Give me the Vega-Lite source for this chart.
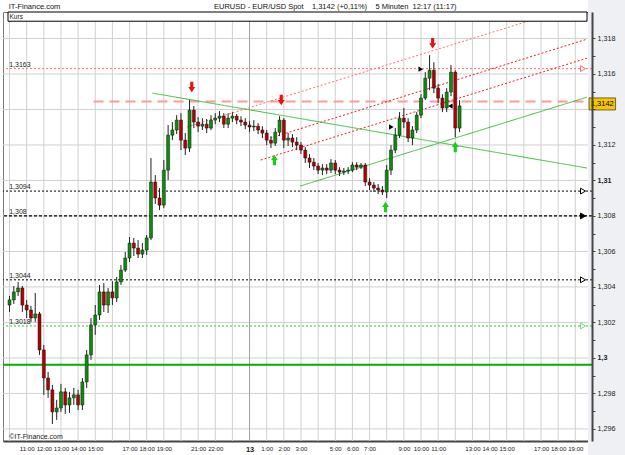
{
 "$schema": "https://vega.github.io/schema/vega-lite/v6.json",
 "width": 589, "height": 429,
 "autosize": "none",
 "padding": {"left": 3, "top": 12, "right": 33, "bottom": 14},
 "background": "#ffffff",
 "config": {"view": {"stroke": "#7a7a7a", "strokeWidth": 1, "fill": "#ffffff"}, "font": "Liberation Sans", "axis": {"labelFont": "Liberation Sans"}},
 "datasets": {
  "candles": [
   {"t":10.0,"o":1.30298,"hi":1.30349,"lo":1.30259,"c":1.30327},
   {"t":10.25,"o":1.30327,"hi":1.30405,"lo":1.30304,"c":1.30372},
   {"t":10.5,"o":1.30372,"hi":1.30428,"lo":1.30349,"c":1.30394},
   {"t":10.75,"o":1.30394,"hi":1.30405,"lo":1.30259,"c":1.30298},
   {"t":11.0,"o":1.30298,"hi":1.30327,"lo":1.30225,"c":1.30270},
   {"t":11.25,"o":1.30270,"hi":1.30293,"lo":1.30203,"c":1.30225},
   {"t":11.5,"o":1.30225,"hi":1.30366,"lo":1.30203,"c":1.30248},
   {"t":11.75,"o":1.30248,"hi":1.30259,"lo":1.30017,"c":1.30045},
   {"t":12.0,"o":1.30045,"hi":1.30073,"lo":1.29792,"c":1.29887},
   {"t":12.25,"o":1.29887,"hi":1.29921,"lo":1.29775,"c":1.29820},
   {"t":12.5,"o":1.29820,"hi":1.29848,"lo":1.29628,"c":1.29696},
   {"t":12.75,"o":1.29696,"hi":1.29764,"lo":1.29651,"c":1.29718},
   {"t":13.0,"o":1.29718,"hi":1.29854,"lo":1.29696,"c":1.29809},
   {"t":13.25,"o":1.29809,"hi":1.29831,"lo":1.29685,"c":1.29735},
   {"t":13.5,"o":1.29735,"hi":1.29809,"lo":1.29690,"c":1.29775},
   {"t":13.75,"o":1.29775,"hi":1.29831,"lo":1.29735,"c":1.29792},
   {"t":14.0,"o":1.29792,"hi":1.29820,"lo":1.29707,"c":1.29735},
   {"t":14.25,"o":1.29735,"hi":1.29887,"lo":1.29707,"c":1.29865},
   {"t":14.5,"o":1.29865,"hi":1.30045,"lo":1.29831,"c":1.30017},
   {"t":14.75,"o":1.30017,"hi":1.30225,"lo":1.29989,"c":1.30186},
   {"t":15.0,"o":1.30186,"hi":1.30298,"lo":1.30130,"c":1.30242},
   {"t":15.25,"o":1.30242,"hi":1.30411,"lo":1.30214,"c":1.30372},
   {"t":15.5,"o":1.30372,"hi":1.30422,"lo":1.30259,"c":1.30298},
   {"t":15.75,"o":1.30298,"hi":1.30394,"lo":1.30253,"c":1.30372},
   {"t":16.0,"o":1.30372,"hi":1.30433,"lo":1.30298,"c":1.30338},
   {"t":16.25,"o":1.30338,"hi":1.30456,"lo":1.30315,"c":1.30428},
   {"t":16.5,"o":1.30428,"hi":1.30524,"lo":1.30411,"c":1.30495},
   {"t":16.75,"o":1.30495,"hi":1.30597,"lo":1.30484,"c":1.30563},
   {"t":17.0,"o":1.30563,"hi":1.30681,"lo":1.30540,"c":1.30647},
   {"t":17.25,"o":1.30647,"hi":1.30676,"lo":1.30574,"c":1.30619},
   {"t":17.5,"o":1.30619,"hi":1.30664,"lo":1.30563,"c":1.30585},
   {"t":17.75,"o":1.30585,"hi":1.30647,"lo":1.30563,"c":1.30608},
   {"t":18.0,"o":1.30608,"hi":1.30692,"lo":1.30580,"c":1.30676},
   {"t":18.25,"o":1.30676,"hi":1.31126,"lo":1.30664,"c":1.30991},
   {"t":18.5,"o":1.30991,"hi":1.31030,"lo":1.30867,"c":1.30901},
   {"t":18.75,"o":1.30901,"hi":1.30957,"lo":1.30833,"c":1.30861},
   {"t":19.0,"o":1.30861,"hi":1.31115,"lo":1.30844,"c":1.31058},
   {"t":19.25,"o":1.31058,"hi":1.31312,"lo":1.31002,"c":1.31255},
   {"t":19.5,"o":1.31255,"hi":1.31329,"lo":1.31227,"c":1.31284},
   {"t":19.75,"o":1.31284,"hi":1.31368,"lo":1.31261,"c":1.31340},
   {"t":20.0,"o":1.31340,"hi":1.31379,"lo":1.31171,"c":1.31227},
   {"t":20.25,"o":1.31227,"hi":1.31267,"lo":1.31143,"c":1.31182},
   {"t":20.5,"o":1.31182,"hi":1.31453,"lo":1.31160,"c":1.31396},
   {"t":20.75,"o":1.31396,"hi":1.31419,"lo":1.31295,"c":1.31329},
   {"t":21.0,"o":1.31329,"hi":1.31357,"lo":1.31272,"c":1.31306},
   {"t":21.25,"o":1.31306,"hi":1.31351,"lo":1.31284,"c":1.31317},
   {"t":21.5,"o":1.31317,"hi":1.31346,"lo":1.31267,"c":1.31295},
   {"t":21.75,"o":1.31295,"hi":1.31368,"lo":1.31284,"c":1.31340},
   {"t":22.0,"o":1.31340,"hi":1.31379,"lo":1.31317,"c":1.31351},
   {"t":22.25,"o":1.31351,"hi":1.31391,"lo":1.31329,"c":1.31362},
   {"t":22.5,"o":1.31362,"hi":1.31379,"lo":1.31295,"c":1.31317},
   {"t":22.75,"o":1.31317,"hi":1.31379,"lo":1.31295,"c":1.31351},
   {"t":23.0,"o":1.31351,"hi":1.31385,"lo":1.31329,"c":1.31362},
   {"t":23.25,"o":1.31362,"hi":1.31374,"lo":1.31317,"c":1.31340},
   {"t":23.5,"o":1.31340,"hi":1.31362,"lo":1.31306,"c":1.31329},
   {"t":23.75,"o":1.31329,"hi":1.31351,"lo":1.31289,"c":1.31312},
   {"t":24.0,"o":1.31312,"hi":1.31334,"lo":1.31272,"c":1.31301},
   {"t":24.25,"o":1.31301,"hi":1.31340,"lo":1.31278,"c":1.31306},
   {"t":24.5,"o":1.31306,"hi":1.31323,"lo":1.31261,"c":1.31284},
   {"t":24.75,"o":1.31284,"hi":1.31306,"lo":1.31239,"c":1.31267},
   {"t":25.0,"o":1.31267,"hi":1.31284,"lo":1.31199,"c":1.31227},
   {"t":25.25,"o":1.31227,"hi":1.31250,"lo":1.31182,"c":1.31210},
   {"t":25.5,"o":1.31210,"hi":1.31295,"lo":1.31194,"c":1.31272},
   {"t":25.75,"o":1.31272,"hi":1.31362,"lo":1.31250,"c":1.31340},
   {"t":26.0,"o":1.31340,"hi":1.31351,"lo":1.31182,"c":1.31227},
   {"t":26.25,"o":1.31227,"hi":1.31267,"lo":1.31194,"c":1.31239},
   {"t":26.5,"o":1.31239,"hi":1.31261,"lo":1.31188,"c":1.31216},
   {"t":26.75,"o":1.31216,"hi":1.31244,"lo":1.31171,"c":1.31199},
   {"t":27.0,"o":1.31199,"hi":1.31216,"lo":1.31149,"c":1.31171},
   {"t":27.25,"o":1.31171,"hi":1.31188,"lo":1.31098,"c":1.31126},
   {"t":27.5,"o":1.31126,"hi":1.31149,"lo":1.31070,"c":1.31103},
   {"t":27.75,"o":1.31103,"hi":1.31126,"lo":1.31058,"c":1.31081},
   {"t":28.0,"o":1.31081,"hi":1.31098,"lo":1.31036,"c":1.31058},
   {"t":28.25,"o":1.31058,"hi":1.31092,"lo":1.31030,"c":1.31070},
   {"t":28.5,"o":1.31070,"hi":1.31092,"lo":1.31036,"c":1.31058},
   {"t":28.75,"o":1.31058,"hi":1.31120,"lo":1.31042,"c":1.31098},
   {"t":29.0,"o":1.31098,"hi":1.31115,"lo":1.31036,"c":1.31058},
   {"t":29.25,"o":1.31058,"hi":1.31075,"lo":1.31025,"c":1.31047},
   {"t":29.5,"o":1.31047,"hi":1.31070,"lo":1.31030,"c":1.31053},
   {"t":29.75,"o":1.31053,"hi":1.31075,"lo":1.31036,"c":1.31058},
   {"t":30.0,"o":1.31058,"hi":1.31103,"lo":1.31047,"c":1.31087},
   {"t":30.25,"o":1.31087,"hi":1.31103,"lo":1.31058,"c":1.31075},
   {"t":30.5,"o":1.31075,"hi":1.31098,"lo":1.31064,"c":1.31087},
   {"t":30.75,"o":1.31087,"hi":1.31098,"lo":1.30968,"c":1.30991},
   {"t":31.0,"o":1.30991,"hi":1.31013,"lo":1.30946,"c":1.30974},
   {"t":31.25,"o":1.30974,"hi":1.30991,"lo":1.30935,"c":1.30957},
   {"t":31.5,"o":1.30957,"hi":1.30980,"lo":1.30923,"c":1.30946},
   {"t":31.75,"o":1.30946,"hi":1.30968,"lo":1.30918,"c":1.30935},
   {"t":32.0,"o":1.30935,"hi":1.31087,"lo":1.30901,"c":1.31058},
   {"t":32.25,"o":1.31058,"hi":1.31199,"lo":1.31030,"c":1.31171},
   {"t":32.5,"o":1.31171,"hi":1.31295,"lo":1.31154,"c":1.31255},
   {"t":32.75,"o":1.31255,"hi":1.31385,"lo":1.31239,"c":1.31351},
   {"t":33.0,"o":1.31351,"hi":1.31408,"lo":1.31295,"c":1.31329},
   {"t":33.25,"o":1.31329,"hi":1.31351,"lo":1.31216,"c":1.31239},
   {"t":33.5,"o":1.31239,"hi":1.31306,"lo":1.31199,"c":1.31284},
   {"t":33.75,"o":1.31284,"hi":1.31385,"lo":1.31267,"c":1.31368},
   {"t":34.0,"o":1.31368,"hi":1.31486,"lo":1.31351,"c":1.31464},
   {"t":34.25,"o":1.31464,"hi":1.31610,"lo":1.31453,"c":1.31576},
   {"t":34.5,"o":1.31576,"hi":1.31706,"lo":1.31509,"c":1.31621},
   {"t":34.75,"o":1.31621,"hi":1.31666,"lo":1.31492,"c":1.31520},
   {"t":35.0,"o":1.31520,"hi":1.31543,"lo":1.31436,"c":1.31464},
   {"t":35.25,"o":1.31464,"hi":1.31486,"lo":1.31385,"c":1.31408},
   {"t":35.5,"o":1.31408,"hi":1.31520,"lo":1.31385,"c":1.31498},
   {"t":35.75,"o":1.31498,"hi":1.31650,"lo":1.31475,"c":1.31610},
   {"t":36.0,"o":1.31610,"hi":1.31621,"lo":1.31244,"c":1.31295},
   {"t":36.25,"o":1.31295,"hi":1.31453,"lo":1.31272,"c":1.31420}
  ],
  "levels": [
   {"p":1.3163,"lab":"1,3163","col":"#ff6f6f","dash":[2,2],"w":1,"tf":"#ffffff"},
   {"p":1.3094,"lab":"1,3094","col":"#000000","dash":[2,2],"w":1,"tf":"#ffffff"},
   {"p":1.308,"lab":"1,308","col":"#000000","dash":[3,2],"w":1.2,"tf":"#000000"},
   {"p":1.3044,"lab":"1,3044","col":"#000000","dash":[2,2],"w":1,"tf":"#ffffff"},
   {"p":1.3018,"lab":"1,3018","col":"#7fd67f","dash":[2,2],"w":1.5,"tf":"#ffffff"}
  ],
  "trends": [
   {"t1":20.35,"p1":1.31301,"t2":42.0,"p2":1.31950,"col":"#ff7070","dash":[2,2]},
   {"t1":25.22,"p1":1.31239,"t2":43.68,"p2":1.31796,"col":"#ee2020","dash":[2,2]},
   {"t1":24.65,"p1":1.31115,"t2":43.68,"p2":1.31689,"col":"#ee2020","dash":[2,2]},
   {"t1":18.34,"p1":1.31492,"t2":43.68,"p2":1.31070,"col":"#3cbc3c","dash":[1,0]},
   {"t1":26.94,"p1":1.30968,"t2":43.68,"p2":1.31469,"col":"#3cbc3c","dash":[1,0]}
  ],
  "hourGrid": [{"g":10},{"g":11},{"g":12},{"g":13},{"g":14},{"g":15},{"g":16},{"g":17},{"g":18},{"g":19},{"g":20},{"g":21},{"g":22},{"g":23},{"g":25},{"g":26},{"g":27},{"g":28},{"g":29},{"g":30},{"g":31},{"g":32},{"g":33},{"g":34},{"g":35},{"g":36},{"g":37},{"g":38},{"g":39},{"g":40},{"g":41},{"g":42},{"g":43}],
  "priceGrid": [{"g":1.296},{"g":1.298},{"g":1.3},{"g":1.302},{"g":1.304},{"g":1.306},{"g":1.308},{"g":1.31},{"g":1.312},{"g":1.314},{"g":1.316},{"g":1.318}],
  "arrowsDown": [{"t":20.63,"p":1.31526},{"t":25.85,"p":1.31453},{"t":34.68,"p":1.31773}],
  "arrowsUp": [{"t":25.45,"p":1.31115},{"t":31.93,"p":1.30850},{"t":36.0,"p":1.31188}],
  "markers": [{"t":33.99,"p":1.31627,"s":"triangle-right"},{"t":32.27,"p":1.31301,"s":"triangle-right"},{"t":35.71,"p":1.31419,"s":"triangle-left"}]
 },
 "layer": [
  {"data": {"name": "candles"},
   "mark": {"type": "rule", "color": "#222222", "strokeWidth": 1, "opacity": 0},
   "encoding": {
    "x": {"field": "t", "type": "quantitative", "title": null,
     "scale": {"domain": [9.911, 43.683], "nice": false, "zero": false},
     "axis": {"title": null, "tickCount": 200, "values": [11,12,13,14,15,17,18,19,21,22,24,25,26,27,29,30,31,33,34,35,37,38,39,41,42,43],
      "labelExpr": "datum.value == 24 ? '13' : (datum.value < 24 ? datum.value : datum.value - 24) + ':00'",
      "labelFontWeight": {"condition": {"test": "datum.value == 24", "value": "bold"}, "value": "normal"},
      "labelFontSize": {"condition": {"test": "datum.value == 24", "value": 7.5}, "value": 6.1},
      "grid": false, "ticks": false, "domainColor": "#444444", "domainWidth": 2,
      "labelColor": "#222222", "labelPadding": 4, "labelFlush": false, "labelOverlap": false}},
    "y": {"field": "lo", "type": "quantitative", "title": null,
     "scale": {"domain": [1.29532, 1.31949], "nice": false, "zero": false},
     "axis": {"orient": "right", "title": null, "zindex": 1, "tickCount": 200,
      "values": [1.296,1.297,1.298,1.299,1.3,1.301,1.302,1.303,1.304,1.305,1.306,1.307,1.308,1.309,1.31,1.311,1.312,1.313,1.314,1.315,1.316,1.317,1.318],
      "labelExpr": "(round(datum.value*1000) % 2 == 1 || round(datum.value*1000) == 1314) ? '' : replace(format(datum.value, '.3~f'), '.', ',')",
      "labelFontWeight": {"condition": {"test": "round(datum.value*1000) == 1310 || round(datum.value*1000) == 1300", "value": "bold"}, "value": "normal"},
      "grid": false, "tickSize": 3, "tickColor": "#444444", "domainColor": "#444444", "domainWidth": 2,
      "labelFontSize": 7.2, "labelColor": "#222222", "labelPadding": 2, "labelFlush": false, "labelOverlap": false}},
    "y2": {"field": "hi"}}},
  {"data": {"name": "hourGrid"},
   "mark": {"type": "rule", "color": "#d0d0d0", "strokeWidth": 1},
   "encoding": {"x": {"field": "g", "type": "quantitative", "title": null}}},
  {"data": {"name": "priceGrid"},
   "mark": {"type": "rule", "color": "#d0d0d0", "strokeWidth": 1},
   "encoding": {"y": {"field": "g", "type": "quantitative", "title": null}}},
  {"data": {"values": [{"k": 1}]},
   "mark": {"type": "rect", "fill": "#eef0f3", "clip": false},
   "encoding": {"x": {"datum": 43.74, "type": "quantitative"}, "x2": {"datum": 46.5}, "y": {"datum": 1.2942, "type": "quantitative"}, "y2": {"datum": 1.3206}}},
  {"data": {"name": "levels"},
   "mark": {"type": "rule"},
   "encoding": {"y": {"field": "p", "type": "quantitative", "title": null},
    "color": {"field": "col", "type": "nominal", "scale": null},
    "strokeDash": {"field": "dash", "type": "nominal", "scale": null},
    "strokeWidth": {"field": "w", "type": "quantitative", "scale": null}}},
  {"data": {"values": [{"p": 1.31445, "t0": 14.9}]},
   "mark": {"type": "rule", "color": "#ff9a9a", "strokeWidth": 2, "strokeDash": [10, 6]},
   "encoding": {"x": {"field": "t0", "type": "quantitative", "title": null}, "x2": {"datum": 43.683}, "y": {"field": "p", "type": "quantitative", "title": null}}},
  {"data": {"values": [{"k": 1}]},
   "mark": {"type": "rule", "color": "#a0a0a0", "strokeWidth": 1},
   "encoding": {"x": {"datum": 24, "type": "quantitative"}}},
  {"data": {"values": [{"p": 1.29962}]},
   "mark": {"type": "rule", "color": "#00b000", "strokeWidth": 2},
   "encoding": {"y": {"field": "p", "type": "quantitative", "title": null}}},
  {"data": {"name": "trends"},
   "mark": {"type": "rule", "strokeWidth": 1, "clip": true},
   "encoding": {"x": {"field": "t1", "type": "quantitative", "title": null}, "y": {"field": "p1", "type": "quantitative", "title": null},
    "x2": {"field": "t2"}, "y2": {"field": "p2"},
    "color": {"field": "col", "type": "nominal", "scale": null},
    "strokeDash": {"field": "dash", "type": "nominal", "scale": null}}},
  {"data": {"name": "candles"},
   "mark": {"type": "rule", "color": "#222222", "strokeWidth": 1},
   "encoding": {"x": {"field": "t", "type": "quantitative", "title": null}, "y": {"field": "lo", "type": "quantitative", "title": null}, "y2": {"field": "hi"}}},
  {"data": {"name": "candles"},
   "mark": {"type": "bar", "size": 3, "stroke": "#111111", "strokeWidth": 0.5},
   "encoding": {"x": {"field": "t", "type": "quantitative", "title": null}, "y": {"field": "o", "type": "quantitative", "title": null}, "y2": {"field": "c"},
    "color": {"condition": {"test": "datum.c >= datum.o", "value": "#0b8f0b"}, "value": "#b30000"}}},
  {"data": {"name": "arrowsDown"},
   "mark": {"type": "point", "filled": true, "color": "#e81010", "size": 110, "opacity": 1, "shape": "M-0.3,-1L0.3,-1L0.3,0L0.65,0L0,1L-0.65,0L-0.3,0Z"},
   "encoding": {"x": {"field": "t", "type": "quantitative", "title": null}, "y": {"field": "p", "type": "quantitative", "title": null}}},
  {"data": {"name": "arrowsUp"},
   "mark": {"type": "point", "filled": true, "color": "#18d018", "size": 110, "opacity": 1, "shape": "M-0.3,1L0.3,1L0.3,0L0.65,0L0,-1L-0.65,0L-0.3,0Z"},
   "encoding": {"x": {"field": "t", "type": "quantitative", "title": null}, "y": {"field": "p", "type": "quantitative", "title": null}}},
  {"data": {"name": "markers"},
   "mark": {"type": "point", "filled": true, "color": "#000000", "size": 28, "opacity": 1},
   "encoding": {"x": {"field": "t", "type": "quantitative", "title": null}, "y": {"field": "p", "type": "quantitative", "title": null},
    "shape": {"field": "s", "type": "nominal", "scale": null}}},
  {"data": {"name": "levels"},
   "mark": {"type": "point", "shape": "triangle-right", "size": 34, "strokeWidth": 1, "opacity": 1},
   "encoding": {"x": {"datum": 43.45, "type": "quantitative"}, "y": {"field": "p", "type": "quantitative", "title": null},
    "fill": {"field": "tf", "type": "nominal", "scale": null},
    "stroke": {"field": "col", "type": "nominal", "scale": null}}},
  {"data": {"name": "levels"},
   "mark": {"type": "text", "align": "left", "baseline": "bottom", "dy": -1, "fontSize": 7, "color": "#222222"},
   "encoding": {"x": {"datum": 9.98, "type": "quantitative"}, "y": {"field": "p", "type": "quantitative", "title": null}, "text": {"field": "lab"}}},
  {"data": {"values": [{"k": 1}]},
   "mark": {"type": "rect", "fill": "#ffffff", "stroke": "#000000", "strokeWidth": 1},
   "encoding": {"x": {"datum": 9.911, "type": "quantitative"}, "x2": {"datum": 43.683}, "y": {"datum": 1.31949, "type": "quantitative"}, "y2": {"datum": 1.31897}}},
  {"data": {"values": [{"txt": "Kurs"}]},
   "mark": {"type": "text", "align": "left", "baseline": "middle", "fontSize": 6.5, "color": "#222222"},
   "encoding": {"x": {"datum": 10.0, "type": "quantitative"}, "y": {"datum": 1.31923, "type": "quantitative"}, "text": {"field": "txt"}}},
  {"data": {"values": [{"txt": "EURUSD - EUR/USD Spot\u00a0\u00a0\u00a0\u00a01,3142 (+0,11%)\u00a0\u00a0\u00a0\u00a05 Minuten\u00a0\u00a012:17 (11:17)"}]},
   "mark": {"type": "text", "align": "center", "baseline": "middle", "fontSize": 7.5, "color": "#111111", "clip": false},
   "encoding": {"x": {"datum": 29.0, "type": "quantitative"}, "y": {"datum": 1.31977, "type": "quantitative"}, "text": {"field": "txt"}}},
  {"data": {"values": [{"txt": "IT-Finance.com"}]},
   "mark": {"type": "text", "align": "left", "baseline": "middle", "fontSize": 7.5, "color": "#111111"},
   "encoding": {"x": {"datum": 9.95, "type": "quantitative"}, "y": {"datum": 1.31977, "type": "quantitative"}, "text": {"field": "txt"}}},
  {"data": {"values": [{"txt": "\u00a9IT-Finance.com"}]},
   "mark": {"type": "text", "align": "left", "baseline": "middle", "fontSize": 7, "color": "#222222"},
   "encoding": {"x": {"datum": 9.99, "type": "quantitative"}, "y": {"datum": 1.29555, "type": "quantitative"}, "text": {"field": "txt"}}},
  {"data": {"values": [{"k": 1}]},
   "mark": {"type": "rect", "fill": "#f7c600", "stroke": "#333333", "strokeWidth": 0.7},
   "encoding": {"x": {"datum": 43.8, "type": "quantitative"}, "x2": {"datum": 45.35}, "y": {"datum": 1.31465, "type": "quantitative"}, "y2": {"datum": 1.31397}}},
  {"data": {"values": [{"txt": "1,3142"}]},
   "mark": {"type": "text", "align": "center", "baseline": "middle", "fontSize": 7.5, "color": "#000000"},
   "encoding": {"x": {"datum": 44.575, "type": "quantitative"}, "y": {"datum": 1.31431, "type": "quantitative"}, "text": {"field": "txt"}}}
 ]
}
